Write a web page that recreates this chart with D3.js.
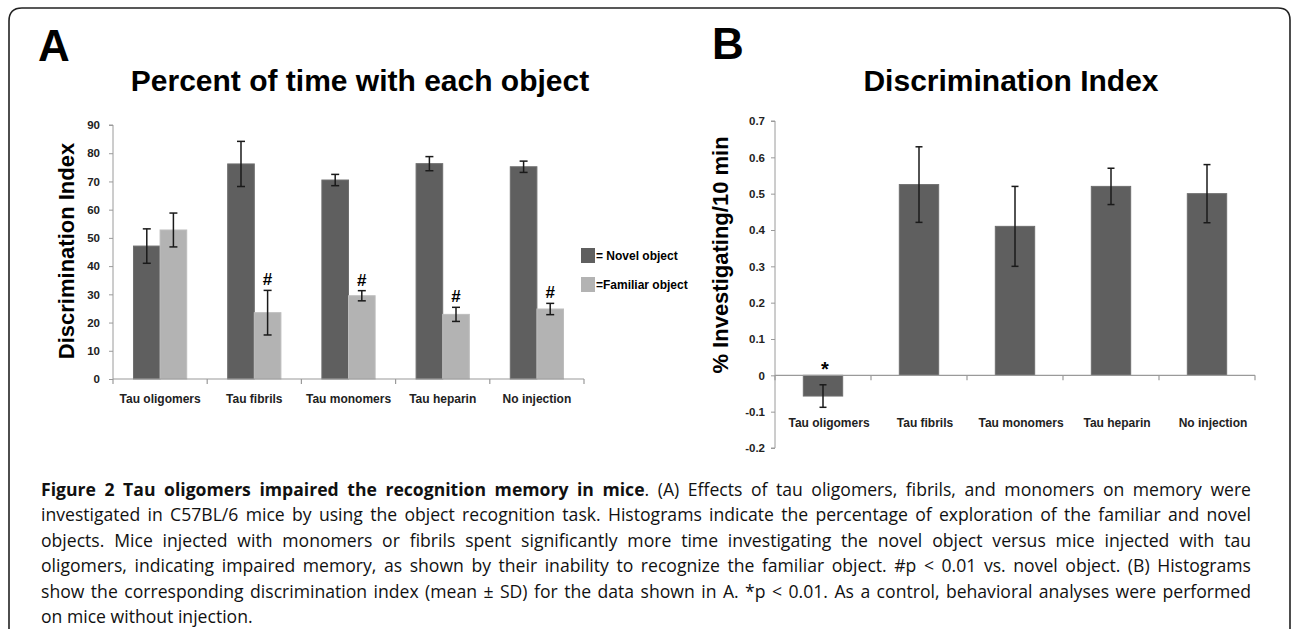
<!DOCTYPE html>
<html>
<head>
<meta charset="utf-8">
<script src="https://cdn.jsdelivr.net/npm/d3@7"></script>
<style>
  html, body { margin: 0; padding: 0; background: #fff; }
  svg { display: block; }
  text { font-family: "Liberation Sans", Arial, sans-serif; }
</style>
</head>
<body>
<svg id="fig" width="1292" height="629"></svg>
<script>
// ---------- DATA ----------
const categories = ["Tau oligomers", "Tau fibrils", "Tau monomers", "Tau heparin", "No injection"];
const seriesNames = ["= Novel object", "=Familiar object"];
const novelValues = [47.1, 76.2, 70.5, 76.3, 75.2];
const novelErrors = [6.1, 8.0, 2.0, 2.5, 2.0];
const familiarValues = [52.8, 23.5, 29.5, 22.9, 24.8];
const familiarErrors = [6.0, 7.9, 1.8, 2.5, 2.0];
const familiarMarks = ["", "#", "#", "#", "#"];
const ticksA = [0, 10, 20, 30, 40, 50, 60, 70, 80, 90];

const indexValues = [-0.057, 0.525, 0.41, 0.52, 0.50];
const indexErrors = [0.031, 0.104, 0.11, 0.05, 0.08];
const indexMarks = ["*", "", "", "", ""];
const ticksB = [-0.2, -0.1, 0, 0.1, 0.2, 0.3, 0.4, 0.5, 0.6, 0.7];

const captionBold = "Figure 2 Tau oligomers impaired the recognition memory in mice";
const captionLines = [
  ". (A) Effects of tau oligomers, fibrils, and monomers on memory were",
  "investigated in C57BL/6 mice by using the object recognition task. Histograms indicate the percentage of exploration of the familiar and novel",
  "objects. Mice injected with monomers or fibrils spent significantly more time investigating the novel object versus mice injected with tau",
  "oligomers, indicating impaired memory, as shown by their inability to recognize the familiar object. #p < 0.01 vs. novel object. (B) Histograms",
  "show the corresponding discrimination index (mean \u00b1 SD) for the data shown in A. *p < 0.01. As a control, behavioral analyses were performed",
  "on mice without injection."
];

// ---------- STYLE ----------
const DARK = "#5f5f5f", LIGHT = "#b3b3b3", AXIS = "#9a9a9a", TXT = "#222";
const svg = d3.select("#fig");

// outer rounded frame
svg.append("path")
  .attr("d", "M9,640 L9,21 Q9,8 22,8 L1278,8 Q1290,8 1290,20 L1290,640")
  .attr("fill", "none").attr("stroke", "#222").attr("stroke-width", 1.6);

// ---------- PANEL A ----------
const gA = svg.append("g");
gA.append("text").attr("x", 38).attr("y", 61).attr("font-size", 44).attr("font-weight", "bold").text("A");
gA.append("text").attr("x", 360).attr("y", 91).attr("text-anchor", "middle")
  .attr("font-size", 30).attr("font-weight", "bold").text("Percent of time with each object");

const yA = d3.scaleLinear().domain([0, 90]).range([379, 125]);
const xA = d3.scaleBand().domain(categories).range([113, 584]).padding(0);
const xSub = d3.scaleBand().domain(seriesNames).range([0, xA.bandwidth()]).paddingInner(0).paddingOuter(0.77);

const yAxisA = d3.axisLeft(yA).tickValues(ticksA).tickSize(4).tickPadding(9).tickFormat(d3.format("d"));
const gyA = gA.append("g").attr("transform", `translate(${xA.range()[0]},0)`).call(yAxisA);
gyA.select(".domain").attr("stroke", AXIS).attr("d", `M-4,${yA(90)}H0V${yA(0)}`);
gyA.selectAll(".tick line").attr("stroke", AXIS);
gyA.selectAll(".tick text").attr("fill", TXT).attr("font-size", 11.5).attr("font-weight", "bold")
  .attr("font-family", "Liberation Sans, Arial, sans-serif");

// bars
const groupsA = categories.map((c, i) => ({
  c, vals: [
    { s: seriesNames[0], v: novelValues[i], e: novelErrors[i], fill: DARK, mark: "" },
    { s: seriesNames[1], v: familiarValues[i], e: familiarErrors[i], fill: LIGHT, mark: familiarMarks[i] }
  ]
}));
const gg = gA.selectAll("g.grp").data(groupsA).join("g").attr("class", "grp")
  .attr("transform", d => `translate(${xA(d.c)},0)`);
gg.selectAll("rect").data(d => d.vals).join("rect")
  .attr("x", d => xSub(d.s)).attr("width", xSub.bandwidth())
  .attr("y", d => yA(d.v)).attr("height", d => yA(0) - yA(d.v))
  .attr("fill", d => d.fill).attr("stroke", d => d.fill === DARK ? "#6e6e6e" : "#bdbdbd").attr("stroke-width", 1);
const ebA = gg.selectAll("g.eb").data(d => d.vals).join("g").attr("class", "eb");
ebA.append("line").attr("x1", d => xSub(d.s) + xSub.bandwidth() / 2).attr("x2", d => xSub(d.s) + xSub.bandwidth() / 2)
  .attr("y1", d => yA(d.v + d.e)).attr("y2", d => yA(d.v - d.e));
ebA.append("line").attr("x1", d => xSub(d.s) + xSub.bandwidth() / 2 - 4).attr("x2", d => xSub(d.s) + xSub.bandwidth() / 2 + 4)
  .attr("y1", d => yA(d.v + d.e)).attr("y2", d => yA(d.v + d.e));
ebA.append("line").attr("x1", d => xSub(d.s) + xSub.bandwidth() / 2 - 4).attr("x2", d => xSub(d.s) + xSub.bandwidth() / 2 + 4)
  .attr("y1", d => yA(d.v - d.e)).attr("y2", d => yA(d.v - d.e));
ebA.selectAll("line").attr("stroke", "#1a1a1a").attr("stroke-width", 1.5);
ebA.append("text").attr("x", d => xSub(d.s) + xSub.bandwidth() / 2).attr("y", d => yA(d.v + d.e) - 5)
  .attr("text-anchor", "middle").attr("font-size", 17).attr("font-weight", "bold").text(d => d.mark);

// x axis A
const gxA = gA.append("g").attr("transform", `translate(0,${yA(0)})`);
gxA.append("line").attr("x1", xA.range()[0]).attr("x2", xA.range()[1]).attr("stroke", AXIS).attr("stroke-width", 1.2);
gxA.selectAll("line.tk").data(d3.range(categories.length + 1)).join("line").attr("class", "tk")
  .attr("x1", i => xA.range()[0] + i * xA.step()).attr("x2", i => xA.range()[0] + i * xA.step())
  .attr("y1", 0).attr("y2", 5).attr("stroke", AXIS).attr("stroke-width", 1.2);
gxA.selectAll("text").data(categories).join("text")
  .attr("x", d => xA(d) + xA.bandwidth() / 2).attr("y", 24).attr("text-anchor", "middle")
  .attr("font-size", 12).attr("font-weight", "bold").attr("fill", TXT).text(d => d);

// y label A
gA.append("text").attr("transform", `translate(74,251) rotate(-90)`).attr("text-anchor", "middle")
  .attr("font-size", 22).attr("font-weight", "bold").text("Discrimination Index");

// legend A
const leg = gA.selectAll("g.leg").data(seriesNames).join("g").attr("class", "leg")
  .attr("transform", (d, i) => `translate(581,${248 + i * 29})`);
leg.append("rect").attr("width", 14).attr("height", 15).attr("fill", (d, i) => i === 0 ? DARK : LIGHT);
leg.append("text").attr("x", 15).attr("y", 12).attr("font-size", 12).attr("font-weight", "bold").text(d => d);

// ---------- PANEL B ----------
const gB = svg.append("g");
gB.append("text").attr("x", 712).attr("y", 59).attr("font-size", 44).attr("font-weight", "bold").text("B");
gB.append("text").attr("x", 1011).attr("y", 91).attr("text-anchor", "middle")
  .attr("font-size", 30).attr("font-weight", "bold").text("Discrimination Index");

const yB = d3.scaleLinear().domain([-0.2, 0.7]).range([448, 121]);
const xB = d3.scaleBand().domain(categories).range([775, 1255]).padding(0);
const barW = xB.bandwidth() * 0.41;

const fmtB = d => d === 0 ? "0" : (d < 0 ? "-" : "") + Math.abs(d).toFixed(1);
const yAxisB = d3.axisLeft(yB).tickValues(ticksB).tickSize(4).tickPadding(6).tickFormat(fmtB);
const gyB = gB.append("g").attr("transform", `translate(${xB.range()[0]},0)`).call(yAxisB);
gyB.select(".domain").attr("stroke", AXIS).attr("d", `M-4,${yB(0.7)}H0V${yB(-0.2)}H-4`);
gyB.selectAll(".tick line").attr("stroke", AXIS);
gyB.selectAll(".tick text").attr("fill", TXT).attr("font-size", 11.5).attr("font-weight", "bold")
  .attr("font-family", "Liberation Sans, Arial, sans-serif");

const dataB = categories.map((c, i) => ({ c, v: indexValues[i], e: indexErrors[i], mark: indexMarks[i] }));
const gb = gB.selectAll("g.bb").data(dataB).join("g").attr("class", "bb")
  .attr("transform", d => `translate(${xB(d.c) + xB.bandwidth() / 2},0)`);
gb.append("rect").attr("x", -barW / 2).attr("width", barW)
  .attr("y", d => Math.min(yB(d.v), yB(0))).attr("height", d => Math.abs(yB(d.v) - yB(0)))
  .attr("fill", DARK).attr("stroke", "#6e6e6e").attr("stroke-width", 1);
gb.append("line").attr("x1", 0).attr("x2", 0).attr("y1", d => yB(d.v + d.e)).attr("y2", d => yB(d.v - d.e));
gb.append("line").attr("x1", -3.5).attr("x2", 3.5).attr("y1", d => yB(d.v + d.e)).attr("y2", d => yB(d.v + d.e));
gb.append("line").attr("x1", -3.5).attr("x2", 3.5).attr("y1", d => yB(d.v - d.e)).attr("y2", d => yB(d.v - d.e));
gb.selectAll("line").attr("stroke", "#1a1a1a").attr("stroke-width", 1.5);
gb.append("text").attr("x", 2).attr("y", d => yB(0) + 1).attr("text-anchor", "middle")
  .attr("font-size", 20).attr("font-weight", "bold").text(d => d.mark);

const gxB = gB.append("g").attr("transform", `translate(0,${yB(0)})`);
gxB.append("line").attr("x1", xB.range()[0]).attr("x2", xB.range()[1]).attr("stroke", AXIS).attr("stroke-width", 1.2);
gxB.selectAll("line.tk").data(d3.range(categories.length + 1)).join("line").attr("class", "tk")
  .attr("x1", i => xB.range()[0] + i * xB.step()).attr("x2", i => xB.range()[0] + i * xB.step())
  .attr("y1", 0).attr("y2", 5).attr("stroke", AXIS).attr("stroke-width", 1.2);
gxB.selectAll("text").data(categories).join("text")
  .attr("x", d => xB(d) + xB.bandwidth() / 2 + 6).attr("y", 52).attr("text-anchor", "middle")
  .attr("font-size", 12).attr("font-weight", "bold").attr("fill", TXT).text(d => d);

gB.append("text").attr("transform", `translate(728,255) rotate(-90)`).attr("text-anchor", "middle")
  .attr("font-size", 22).attr("font-weight", "bold").text("% Investigating/10 min");

// ---------- CAPTION ----------
const capX = 41, capRight = 1251, capY0 = 496, capDY = 25.4;
const cap = svg.append("g").attr("font-size", 17.6).attr("fill", "#111");
captionLines.forEach((ln, i) => {
  const t = cap.append("text").attr("x", capX).attr("y", capY0 + i * capDY)
    .style("font-family", "'Open Sans', 'Noto Sans', sans-serif");
  if (i === 0) t.append("tspan").attr("font-weight", "bold").text(captionBold);
  t.append("tspan").text(ln);
  if (i < captionLines.length - 1) {
    const len = t.node().getComputedTextLength();
    const full = (i === 0 ? captionBold : "") + ln;
    const spaces = (full.match(/ /g) || []).length;
    t.attr("word-spacing", (capRight - capX - len) / spaces);
  }
});
</script>
</body>
</html>
